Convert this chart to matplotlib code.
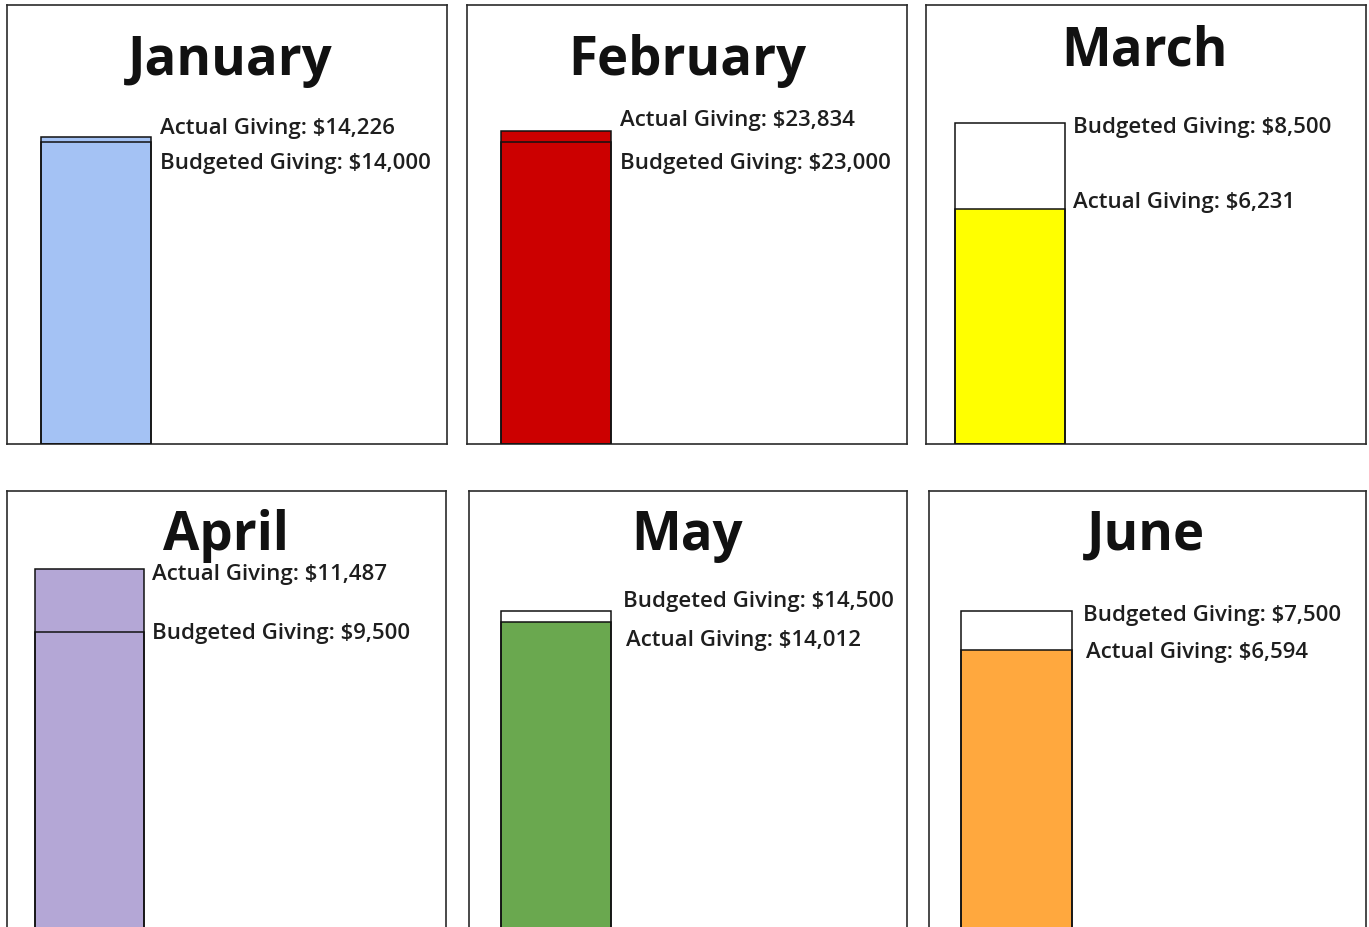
import matplotlib
matplotlib.use("Agg")
import matplotlib.pyplot as plt

# ---- data ----
months = ["January", "February", "March", "April", "May", "June"]
actual = [14226, 23834, 6231, 11487, 14012, 6594]
budget = [14000, 23000, 8500, 9500, 14500, 7500]
colors = ["#a4c2f4", "#cc0000", "#ffff00", "#b4a7d6", "#6aa84f", "#ffa83e"]

# ---- layout (pixels) ----
W, H = 1369, 928
panels = [(7, 6, 447, 445), (467, 6, 907, 445), (926, 6, 1366, 445),
          (7, 492, 446, 932), (469, 492, 907, 932), (929, 492, 1366, 932)]
bar_left = [34, 34, 29, 28, 32, 32]
bar_width = [110, 110, 110, 109, 110, 111]
top_frac = [0.700, 0.714, 0.731, 0.823, 0.727, 0.727]
title_base = [69, 69, 59, 58, 58, 58]
title_dx = [3, 0, -1, -1, -1, -2]
lab_dx = [9, 9, 8, 8, 12, 11]
# label vertical offsets (px, downward positive) for actual / budget labels
act_off = [-9, -11, -7, 5, 18, 2]
bud_off = [21, 21, 3, 1, -11, 3]
act_dx_extra = [0, 0, 0, 0, 3, 3]

plt.rcParams['font.family'] = ['Open Sans', 'Lato', 'DejaVu Sans']

fig = plt.figure(figsize=(W / 100, H / 100), dpi=100)
fig.patch.set_facecolor("white")

px2pt = 72 / 100

for i, m in enumerate(months):
    x0, y0, x1, y1 = panels[i]
    pw, ph = x1 - x0, y1 - y0
    ax = fig.add_axes([x0 / W, 1 - y1 / H, pw / W, ph / H])
    ax.set_xlim(0, pw)
    ymax = max(actual[i], budget[i]) / top_frac[i]
    ax.set_ylim(0, ymax)
    ax.set_xticks([])
    ax.set_yticks([])
    for s in ax.spines.values():
        s.set_linewidth(1.2)
        s.set_edgecolor("#2b2b2b")
    ax.bar(bar_left[i], actual[i], width=bar_width[i], align="edge",
           color=colors[i], edgecolor="#111111", linewidth=1.1, zorder=2)
    ax.bar(bar_left[i], budget[i], width=bar_width[i], align="edge",
           fill=False, edgecolor="#111111", linewidth=1.1, zorder=3)
    # title
    ax.text((pw / 2 + title_dx[i]) / pw, 1 - title_base[i] / ph, m,
            transform=ax.transAxes, ha="center", va="baseline",
            fontsize=38, fontweight="bold", color="#111111")
    # labels
    lx = bar_left[i] + bar_width[i]
    ax.annotate(f"Actual Giving: ${actual[i]:,}", xy=(lx, actual[i]),
                xytext=((lab_dx[i] + act_dx_extra[i]) * px2pt, -act_off[i] * px2pt),
                textcoords="offset points", ha="left", va="center",
                fontsize=16, fontweight="semibold", color="#1e1e1e")
    ax.annotate(f"Budgeted Giving: ${budget[i]:,}", xy=(lx, budget[i]),
                xytext=(lab_dx[i] * px2pt, -bud_off[i] * px2pt),
                textcoords="offset points", ha="left", va="center",
                fontsize=16, fontweight="semibold", color="#1e1e1e")

fig.savefig("out.png", dpi=100)
